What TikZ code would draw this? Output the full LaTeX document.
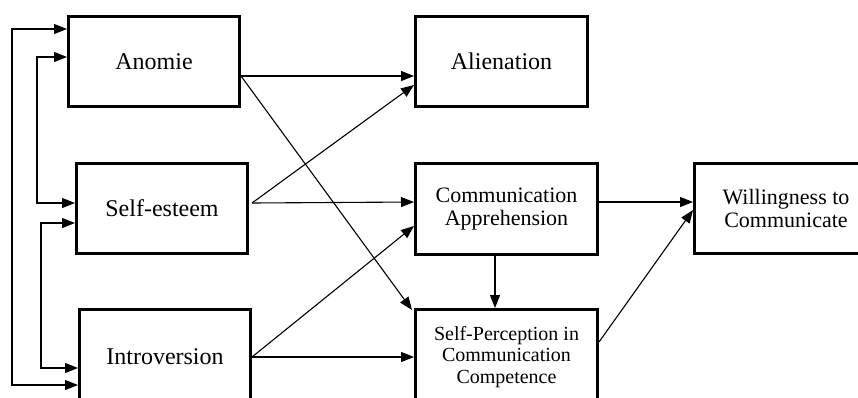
\documentclass[tikz,border=0pt]{standalone}
\usepackage{fontspec}
\setmainfont{Liberation Serif}
\usetikzlibrary{arrows.meta}
\begin{document}
\begin{tikzpicture}[x=1pt,y=1pt,
  box/.style={draw=black, line width=3pt, fill=white, inner sep=0pt, align=center, rectangle},
  big/.style={font=\fontsize{24}{28}\selectfont},
  mid/.style={font=\fontsize{22}{23}\selectfont},
  small/.style={font=\fontsize{20}{21.5}\selectfont},
  conn/.style={line width=1.1pt, -{Triangle[length=13pt,width=10pt]}},
  corr/.style={line width=1.1pt, {Triangle[length=13pt,width=10pt]}-{Triangle[length=13pt,width=10pt]}}]
\useasboundingbox (0,0) rectangle (858,-397);
\node[box,big,minimum width=171pt,minimum height=90pt] (anomie) at (154,-61.5) {Anomie};
\node[box,big,minimum width=172pt,minimum height=90pt] (alien) at (501.5,-61.5) {Alienation};
\node[box,big,minimum width=171pt,minimum height=90pt] (selfes) at (162,-208.5) {Self-esteem};
\node[box,big,minimum width=171pt,minimum height=95pt] (intro) at (165,-357) {Introversion};
\node[box,mid,minimum width=182pt,minimum height=91pt] (commapp) at (506.5,-209) {Communication\\Apprehension};
\node[box,mid,minimum width=183pt,minimum height=90pt] (will) at (786,-208.5) {Willingness to\\Communicate};
\node[box,small,minimum width=182pt,minimum height=95pt] (selfperc) at (506.5,-357) {Self-Perception in\\Communication\\Competence};
% correlations
\draw[corr] ([yshift=32.5]anomie.west) -- ++(-55,0) |- ([yshift=-28]intro.west);
\draw[corr] ([yshift=4.5]anomie.west) -- ++(-30,0) |- ([yshift=5.5]selfes.west);
\draw[corr] ([yshift=-14.5]selfes.west) -- ++(-34,0) |- ([yshift=-11]intro.west);
% paths
\draw[conn] ([yshift=-14.5]anomie.east) -- ([yshift=-14.5]alien.west);
\draw[conn] ([yshift=-14.5]anomie.east) -- ([xshift=-2pt,yshift=-2pt]selfperc.north west);
\draw[conn] ([xshift=3pt,yshift=5.5]selfes.east) -- ([yshift=-23.5]alien.west);
\draw[conn] ([xshift=3pt,yshift=5.5]selfes.east) -- ([yshift=7]commapp.west);
\draw[conn] (intro.east) -- ([yshift=-17]commapp.west);
\draw[conn] (intro.east) -- (selfperc.west);
\draw[conn] ([xshift=-11.5]commapp.south) -- ([xshift=-11.5]selfperc.north);
\draw[conn] ([yshift=7]commapp.east) -- ([yshift=6.5]will.west);
\draw[conn] ([yshift=15]selfperc.east) -- ([yshift=-1.5]will.west);
\end{tikzpicture}
\end{document}
